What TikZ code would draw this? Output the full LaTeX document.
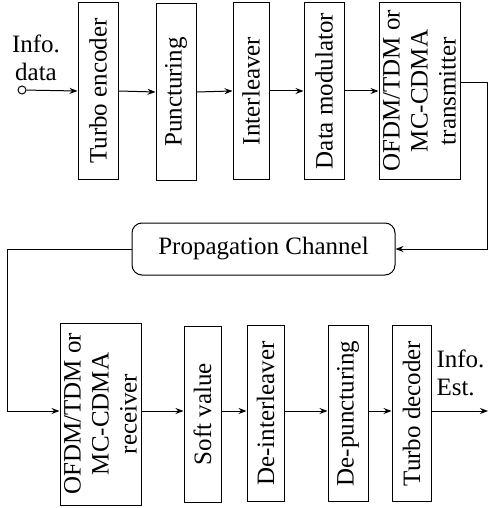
\documentclass[tikz,border=0pt]{standalone}
\usepackage{fontspec}
\setmainfont{Liberation Serif}
\usetikzlibrary{arrows.meta}

\begin{document}
\begin{tikzpicture}[x=0.5pt,y=-0.5pt,font=\fontsize{12.5}{14}\selectfont,line width=0.5pt,
  blk/.style={draw,rotate=90,align=center,inner sep=1pt,minimum width=88pt,minimum height=20pt},
  wide/.style={blk,minimum height=40.5pt},
  sig/.style={-{Stealth[length=4pt,width=3pt]}}]
\useasboundingbox (0,0) rectangle (488,508);
% transmitter chain
\node[blk] (enc) at (98,91) {Turbo encoder};
\node[blk] (punc) at (176,92) {Puncturing};
\node[blk,minimum height=18pt] (intl) at (251,91) {Interleaver};
\node[blk] (mod) at (324,91) {Data modulator};
\node[wide] (tx) at (419.5,91) {OFDM/TDM or\\MC-CDMA\\transmitter};
\node[circle,draw,inner sep=0pt,minimum size=4pt] (src) at (22,90) {};
\node[align=center] (srclbl) at (36,58) {Info.\\data};
\draw[sig] (src) -- (enc.north);
\draw[sig] (enc.south) -- (punc.north);
\draw[sig] (punc.south) -- (intl.north);
\draw[sig] (intl.south) -- (mod.north);
\draw[sig] (mod.south) -- (tx.north);
% channel
\node[draw,rounded corners=5pt,minimum width=131.5pt,minimum height=26pt] (chan) at (263.5,249) {Propagation Channel};
\coordinate (txo) at (487,83);
\draw[sig] (tx.south |- txo) -- (txo) |- (chan.east);
% receiver chain
\node[wide,minimum width=91pt] (rx) at (100.5,414) {OFDM/TDM or\\MC-CDMA\\receiver};
\node[blk,minimum height=18.5pt] (soft) at (202.5,414) {Soft value};
\node[blk,minimum height=18.5pt] (deint) at (265.5,413.5) {De-interleaver};
\node[blk] (depunc) at (348,413.5) {De-puncturing};
\node[blk,minimum height=19.5pt] (dec) at (411.5,413.5) {Turbo decoder};
\coordinate (fb) at (7,411);
\draw[sig] (chan.west) -| (fb) -- (rx.north |- fb);
\draw[sig] (rx.south |- fb) -- (soft.north |- fb);
\draw[sig] (soft.south |- fb) -- (deint.north |- fb);
\draw[sig] (deint.south |- fb) -- (depunc.north |- fb);
\draw[sig] (depunc.south |- fb) -- (dec.north |- fb);
\coordinate (snk) at (488,411);
\draw[sig] (dec.south |- fb) -- (snk);
\node[align=left,anchor=west,inner sep=0pt] (snklbl) at (436,373) {Info.\\Est.};
\end{tikzpicture}
\end{document}
